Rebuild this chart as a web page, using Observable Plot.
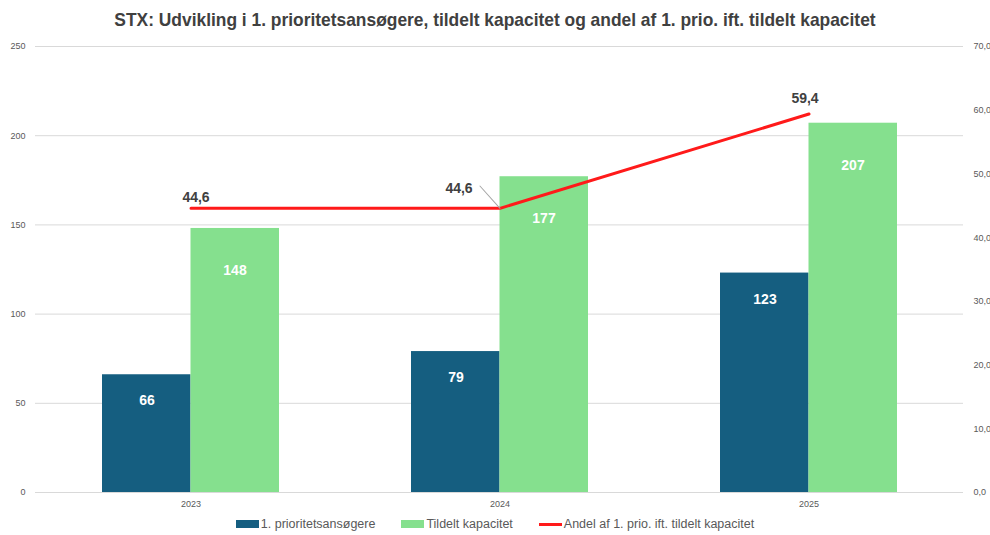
<!DOCTYPE html>
<html><head><meta charset="utf-8">
<script src="https://cdn.jsdelivr.net/npm/d3@7"></script>
<script src="https://cdn.jsdelivr.net/npm/@observablehq/plot@0.6"></script>
<style>
body{margin:0;background:#fff;width:990px;height:535px;overflow:hidden;font-family:"Liberation Sans",Arial,sans-serif}
#title{height:36px;line-height:40px;text-align:center;white-space:nowrap}
#title span{display:inline-block;transform:scaleX(0.915);font-family:"Liberation Sans",Arial,sans-serif;font-weight:bold;font-size:19px;color:#404040}
#chart{line-height:0}
#chart svg{display:block}
#legend{display:flex;justify-content:center;align-items:center;height:22px;font-size:12.5px;color:#595959;padding-left:0}
.item{display:flex;align-items:center;margin:0 13px}
.sw{width:23px;height:8px;margin-right:2px}
.ln{width:23px;height:3px;margin-right:2px}
</style></head><body>
<div id="title"><span>STX: Udvikling i 1. prioritetsansøgere, tildelt kapacitet og andel af 1. prio. ift. tildelt kapacitet</span></div>
<div id="chart"></div>
<div id="legend"></div>
<script>
const years = ["2023", "2024", "2025"];
const applicants = [66, 79, 123];
const capacity = [148, 177, 207];
const share = [44.6, 44.6, 59.4];
const leftTicks = [0, 50, 100, 150, 200, 250];
const rightTicks = [0, 10, 20, 30, 40, 50, 60, 70];
const seriesNames = ["1. prioritetsansøgere", "Tildelt kapacitet", "Andel af 1. prio. ift. tildelt kapacitet"];
const colors = ["#155e80", "#85e08e", "#ff1a1a"];

const k = 250 / 70; // right axis (0–70) mapped onto left axis (0–250)
const data = years.map((y, i) => ({year: y, a: applicants[i], c: capacity[i], s: share[i], sy: share[i] * k}));
const fmt = v => v.toFixed(1).replace(".", ",");

const chart = Plot.plot({
  width: 990, height: 477,
  marginLeft: 35, marginRight: 27, marginTop: 10, marginBottom: 21,
  x: {type: "band", domain: years, paddingInner: 0.428, paddingOuter: 0.214},
  y: {domain: [0, 250]},
  style: {fontFamily: "Liberation Sans, Arial, sans-serif", color: "#595959", background: "white"},
  marks: [
    Plot.ruleY(leftTicks, {stroke: "#d9d9d9", strokeWidth: 1}),
    Plot.axisY(leftTicks, {anchor: "left", tickSize: 0, tickPadding: 10, fontSize: 9, label: null}),
    Plot.axisY(rightTicks.map(t => t * k), {anchor: "right", tickSize: 0, tickPadding: 10, fontSize: 9, label: null,
      tickFormat: t => Math.round(t / k) + ",0"}),
    Plot.axisX({tickSize: 0, tickPadding: 8, fontSize: 9, label: null}),
    Plot.barY(data, {x: "year", y: "a", fill: colors[0], insetRight: 88.5}),
    Plot.barY(data, {x: "year", y: "c", fill: colors[1], insetLeft: 88.5}),
    Plot.text(data, {x: "year", y: "a", text: d => String(d.a), dx: -44, dy: 26, fill: "white", fontWeight: "bold", fontSize: 14}),
    Plot.text(data, {x: "year", y: "c", text: d => String(d.c), dx: 44, dy: 42, fill: "white", fontWeight: "bold", fontSize: 14}),
    Plot.line(data, {x: "year", y: "sy", stroke: colors[2], strokeWidth: 3}),
    Plot.vector(data.filter((d, i) => i === 1), {x: "year", y: "sy", length: 30, rotate: -42, anchor: "start",
      stroke: "#a6a6a6", strokeWidth: 1,
      shape: {draw(ctx, l) { ctx.moveTo(0, 0); ctx.lineTo(0, -l); }}}),
    Plot.text(data.filter((d, i) => i === 0), {x: "year", y: "sy", text: d => fmt(d.s), dx: 5, dy: -11, fill: "#404040", fontWeight: "bold", fontSize: 14}),
    Plot.text(data.filter((d, i) => i === 1), {x: "year", y: "sy", text: d => fmt(d.s), dx: -41, dy: -20, fill: "#404040", fontWeight: "bold", fontSize: 14}),
    Plot.text(data.filter((d, i) => i === 2), {x: "year", y: "sy", text: d => fmt(d.s), dx: -4, dy: -16, fill: "#404040", fontWeight: "bold", fontSize: 14})
  ]
});
document.getElementById("chart").append(chart);

const legend = document.getElementById("legend");
seriesNames.forEach((name, i) => {
  const item = document.createElement("div");
  item.className = "item";
  const sw = document.createElement("div");
  sw.className = i === 2 ? "ln" : "sw";
  sw.style.background = colors[i];
  const label = document.createElement("span");
  label.textContent = name;
  item.append(sw, label);
  legend.append(item);
});
</script>
</body></html>
